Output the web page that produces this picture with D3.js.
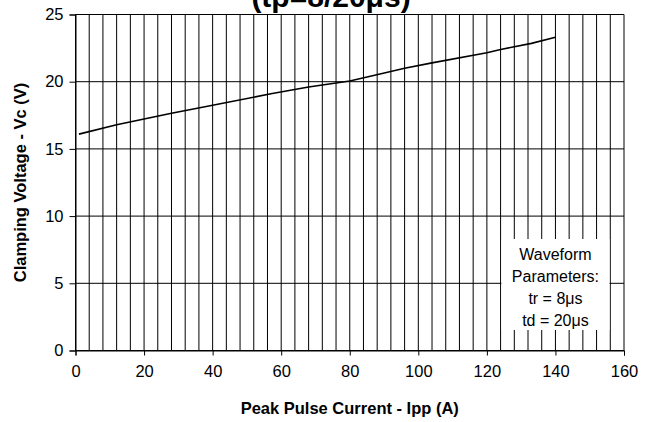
<!DOCTYPE html>
<html>
<head>
<meta charset="utf-8">
<script src="https://cdn.jsdelivr.net/npm/d3@7"></script>
<style>
  body { margin: 0; background: #fff; }
  text { font-family: "Liberation Sans", Arial, sans-serif; }
</style>
</head>
<body>
<script>
// values (Ipp in A, Vc in V)
let ipp = [1, 12, 28, 40, 57, 68, 80, 86, 96, 104, 120, 124, 133, 140];
let vc = [16.1, 16.8, 17.65, 18.25, 19.1, 19.6, 20.05, 20.4, 21.0, 21.4, 22.15, 22.4, 22.85, 23.3];

let xTicks = [0, 20, 40, 60, 80, 100, 120, 140, 160];
let yTicks = [0, 5, 10, 15, 20, 25];
let xGrid = d3.range(0, 161, 4);
let boxLines = ["Waveform", "Parameters:", "tr = 8\u03bcs", "td = 20\u03bcs"];

let width = 653, height = 422;
let plotLeft = 75.5, plotRight = 624, plotTop = 14.5, plotBottom = 350.5;

svg = d3.select("body")
  .append("svg")
  .attr("width", width)
  .attr("height", height);

let xScale = d3.scaleLinear().domain([0, 160]).range([plotLeft, plotRight]);
let yScale = d3.scaleLinear().domain([0, 25]).range([plotBottom, plotTop]);

// vertical grid
svg.append("g")
  .selectAll("line")
  .data(xGrid)
  .enter()
  .append("line")
  .attr("x1", d => xScale(d))
  .attr("x2", d => xScale(d))
  .attr("y1", plotTop)
  .attr("y2", plotBottom)
  .attr("stroke", "#000")
  .attr("stroke-width", 1);

// horizontal grid
svg.append("g")
  .selectAll("line")
  .data(yTicks)
  .enter()
  .append("line")
  .attr("x1", plotLeft)
  .attr("x2", plotRight)
  .attr("y1", d => yScale(d))
  .attr("y2", d => yScale(d))
  .attr("stroke", "#000")
  .attr("stroke-width", 1);

// axes with outward ticks
let xAxis = d3.axisBottom(xScale).tickValues(xTicks).tickSize(5).tickPadding(10);
svg.append("g")
  .attr("transform", `translate(0, ${plotBottom})`)
  .call(xAxis)
  .call(g => g.select(".domain").attr("stroke", "#000"))
  .selectAll("text")
  .attr("font-size", "16.5px")
  .attr("fill", "#000");

let yAxis = d3.axisLeft(yScale).tickValues(yTicks).tickSize(6).tickPadding(6);
svg.append("g")
  .attr("transform", `translate(${plotLeft}, 0)`)
  .call(yAxis)
  .call(g => g.select(".domain").attr("stroke", "#000"))
  .selectAll("text")
  .attr("font-size", "16.5px")
  .attr("fill", "#000");

svg.selectAll(".tick line").attr("stroke", "#000");

// parameter box
svg.append("rect")
  .attr("x", xScale(124) + 0.8)
  .attr("y", 239)
  .attr("width", xScale(156) - xScale(124) - 1.6)
  .attr("height", 91)
  .attr("fill", "#fff");

svg.append("g")
  .selectAll("text")
  .data(boxLines)
  .enter()
  .append("text")
  .attr("x", (xScale(124) + xScale(156)) / 2)
  .attr("y", (d, i) => 260 + i * 22)
  .attr("text-anchor", "middle")
  .attr("font-size", "16px")
  .text(d => d);

// curve
let pts = ipp.map((d, i) => [d, vc[i]]);
svg.append("path")
  .datum(pts)
  .attr("fill", "none")
  .attr("stroke", "#000")
  .attr("stroke-width", 1.6)
  .attr("d", d3.line().x(d => xScale(d[0])).y(d => yScale(d[1])));

// titles
svg.append("text")
  .attr("x", 331)
  .attr("y", 7)
  .attr("text-anchor", "middle")
  .attr("font-size", "30px")
  .attr("font-weight", "bold")
  .text("(tp=8/20\u03bcs)");

svg.append("text")
  .attr("x", (plotLeft + plotRight) / 2)
  .attr("y", 414)
  .attr("text-anchor", "middle")
  .attr("font-size", "16.5px")
  .attr("font-weight", "bold")
  .text("Peak Pulse Current - Ipp (A)");

svg.append("text")
  .attr("transform", `translate(26, ${(plotTop + plotBottom) / 2}) rotate(-90)`)
  .attr("text-anchor", "middle")
  .attr("font-size", "16.5px")
  .attr("font-weight", "bold")
  .text("Clamping Voltage - Vc (V)");
</script>
</body>
</html>
